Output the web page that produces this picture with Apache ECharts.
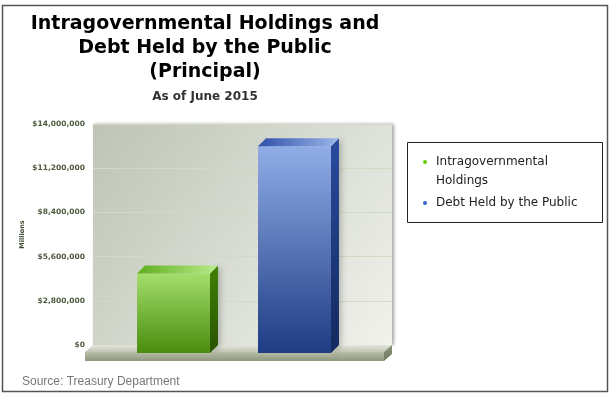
<!DOCTYPE html>
<html>
<head>
<meta charset="utf-8">
<script src="https://cdn.jsdelivr.net/npm/echarts@6/dist/echarts.min.js"></script>
<style>
html,body{margin:0;padding:0;background:#fff;}
#chart{width:614px;height:394px;}
</style>
</head>
<body>
<div id="chart"></div>
<script>
// ---- data ----
const categories = ['Intragovernmental Holdings', 'Debt Held by the Public'];
const values = [5040000, 13100000];
const yTicks = { min: 0, max: 14000000, interval: 2800000 };
const titleLines = ['Intragovernmental Holdings and', 'Debt Held by the Public', '(Principal)'];
const subtitleText = 'As of June 2015';
const sourceText = 'Source: Treasury Department';
const yAxisName = 'Millions';

// ---- styles ----
const palette = [
  { legend: '#66cc00',
    front: ['#a3de6c', '#4a8c0e'],
    top: ['#5fae1c', '#b9ec8c'],
    side: ['#3f8004', '#285400'] },
  { legend: '#3366cc',
    front: ['#90ade8', '#1f3b83'],
    top: ['#2f52aa', '#9cb6ea'],
    side: ['#2a4b9e', '#132a5e'] }
];

function lin(c1, c2, horizontal) {
  return { type: 'linear', x: 0, y: 0, x2: horizontal ? 1 : 0, y2: horizontal ? 0 : 1,
    colorStops: [{ offset: 0, color: c1 }, { offset: 1, color: c2 }] };
}

function fmt(v) {
  return '$' + String(v).replace(/\B(?=(\d{3})+(?!\d))/g, ',');
}

const chart = echarts.init(document.getElementById('chart'), null, { renderer: 'canvas' });

function renderBar(params, api) {
  const idx = api.value(0);
  const topPt = api.coord([idx, api.value(1)]);
  const basePt = api.coord([idx, 0]);
  const w = api.size([1, 0])[0] * 0.603;
  const d = 8;
  const x0 = topPt[0] - w / 2, x1 = topPt[0] + w / 2;
  const yT = topPt[1], yB = basePt[1] + d;
  const p = palette[params.seriesIndex];
  return {
    type: 'group',
    children: [
      { type: 'polygon', shape: { points: [[x1, yT + d], [x1 + d, yT], [x1 + d, basePt[1]], [x1, yB]] },
        style: { fill: lin(p.side[0], p.side[1]), shadowBlur: 6, shadowColor: 'rgba(0,0,0,0.25)', shadowOffsetX: 2 } },
      { type: 'rect', shape: { x: x0, y: yT + d, width: w, height: yB - yT - d },
        style: { fill: lin(p.front[0], p.front[1]) } },
      { type: 'polygon', shape: { points: [[x0, yT + d], [x0 + d, yT], [x1 + d, yT], [x1, yT + d]] },
        style: { fill: lin(p.top[0], p.top[1], true) } }
    ]
  };
}

const series = categories.map((c, i) => ({
  name: c,
  type: 'custom',
  xAxisIndex: 1,
  yAxisIndex: 1,
  z: 5,
  itemStyle: { color: palette[i].legend },
  encode: { x: 0, y: 1 },
  data: [[i, values[i]]],
  renderItem: renderBar
}));

const option = {
  animation: false,
  backgroundColor: '#ffffff',
  title: [
    { text: titleLines.join('\n'), left: 200, top: 7, textAlign: 'center',
      textStyle: { fontFamily: 'DejaVu Sans', fontWeight: 'bold', fontSize: 19, lineHeight: 24, color: '#000' } },
    { text: subtitleText, left: 200, top: 86, textAlign: 'center',
      textStyle: { fontFamily: 'DejaVu Sans', fontWeight: 'bold', fontSize: 12, color: '#333' } },
    { text: sourceText, left: 17, top: 371,
      textStyle: { fontFamily: 'Liberation Sans', fontWeight: 'normal', fontSize: 12, color: '#777' } }
  ],
  legend: {
    orient: 'vertical',
    left: 423,
    top: 133.5,
    padding: 0,
    itemGap: 3,
    itemWidth: 12,
    itemHeight: 4,
    icon: 'circle',
    selectedMode: false,
    formatter: function (name) { return name === categories[0] ? ' \nIntragovernmental\nHoldings' : name; },
    textStyle: { fontFamily: 'DejaVu Sans', fontSize: 12, color: '#222', lineHeight: 19 },
    data: categories
  },
  grid: [
    { left: 93, top: 124, width: 299, height: 221, show: true, borderWidth: 0,
      backgroundColor: { type: 'linear', x: 0, y: 0, x2: 1, y2: 1,
        colorStops: [{ offset: 0, color: '#bec4b6' }, { offset: 1, color: '#f0f2ec' }] },
      shadowColor: 'rgba(0,0,0,0.35)', shadowBlur: 3, shadowOffsetX: 2 },
    { left: 113, top: 124, width: 242, height: 221, show: false }
  ],
  xAxis: [
    { type: 'category', gridIndex: 0, data: categories, show: false },
    { type: 'category', gridIndex: 1, data: categories, show: false }
  ],
  yAxis: [
    { type: 'value', gridIndex: 0, min: yTicks.min, max: yTicks.max, interval: yTicks.interval,
      name: yAxisName, nameLocation: 'middle', nameRotate: 90, nameGap: 67,
      nameTextStyle: { fontFamily: 'DejaVu Sans', fontWeight: 'bold', fontSize: 6.5, color: '#3f4a33' },
      axisLine: { show: false }, axisTick: { show: false },
      axisLabel: { formatter: fmt, margin: 8, fontFamily: 'DejaVu Sans', fontWeight: 'bold', fontSize: 7.5, color: '#4d5a3e' },
      splitLine: { show: true, lineStyle: { color: '#d3dac3', width: 1 } } },
    { type: 'value', gridIndex: 1, min: yTicks.min, max: yTicks.max, interval: yTicks.interval, show: false,
      splitLine: { show: false } }
  ],
  graphic: [
    { type: 'rect', z: 100, shape: { x: 2.5, y: 5.5, width: 605, height: 386 },
      style: { fill: 'none', stroke: '#555', lineWidth: 1.5 } },
    { type: 'rect', z: 100, shape: { x: 407.5, y: 142.5, width: 195, height: 80 },
      style: { fill: 'none', stroke: '#222', lineWidth: 1 } },
    // floor slab
    { type: 'polygon', z: 1, shape: { points: [[93, 345], [392, 345], [384, 352], [85, 352]] },
      style: { fill: lin('#e2e5da', '#c2c6b5') } },
    { type: 'rect', z: 1, shape: { x: 85, y: 352, width: 299, height: 9 },
      style: { fill: lin('#b9bea9', '#8f967e') } },
    { type: 'polygon', z: 1, shape: { points: [[384, 352], [392, 345], [392, 354], [384, 361]] },
      style: { fill: lin('#8e957c', '#6f765f') } }
  ],
  series: series
};

chart.setOption(option);
</script>
</body>
</html>
